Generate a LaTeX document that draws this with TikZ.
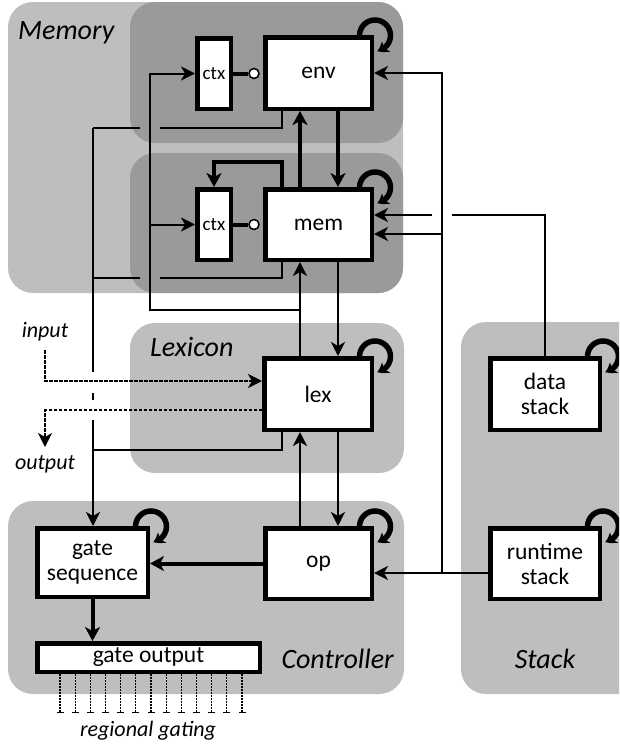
\documentclass[tikz,border=0pt]{standalone}
\usepackage{fontspec}
\setmainfont{Carlito}
\usetikzlibrary{arrows.meta,calc,bending}

\definecolor{zonelightgray}{RGB}{189,190,192}
\definecolor{zonedarkgray}{RGB}{154,154,154}

\newcommand\unitfont{\fontsize{23.5}{25}\selectfont}
\newcommand\ctxfont{\fontsize{19}{21}\selectfont}
\newcommand\zonefont{\fontsize{28}{30}\selectfont\itshape}
\newcommand\iofont{\fontsize{22}{24}\selectfont\itshape}

\tikzset{
  zonelight/.style={fill=zonelightgray, rounded corners=25pt},
  zonedark/.style={fill=zonedarkgray, rounded corners=25pt},
  zonelabel/.style={inner sep=0pt, font=\zonefont},
  unit/.style={draw, fill=white, line width=4.5pt, inner sep=0pt, align=center, font=\unitfont},
  ctxunit/.style={unit, font=\ctxfont, minimum width=33.5pt, minimum height=70.5pt},
  gatecircle/.style={circle, draw, fill=white, line width=1.5pt, inner sep=0pt, minimum size=10pt},
  wire/.style={line width=2pt},
  warrow/.style={wire, -{Stealth[length=14pt,width=14pt,inset=4pt]}},
  fatwire/.style={line width=4pt},
  fatarrow/.style={fatwire, -{Stealth[length=14pt,width=15pt,inset=4pt]}},
  iowire/.style={line width=1.8pt, dash pattern=on 3.5pt off 1.5pt,
                 -{Stealth[length=14pt,width=14pt,inset=4pt]}},
  gatewire/.style={line width=1.2pt, dash pattern=on 2pt off 1pt,
                   -{Bar[width=7pt,line width=1.2pt]}},
  loopwire/.style={line width=5.5pt, -{Stealth[length=10pt,width=13pt,inset=2.5pt,bend]}},
}
% recurrent self-connection drawn at a unit's upper right corner
\newcommand\selfloop[1]{%
  \draw[loopwire] ($(#1.north east)+(-14.5,0.5)$) arc[start angle=180, end angle=442, radius=15.5];}

\begin{document}
\begin{tikzpicture}[x=1pt,y=-1pt]
\useasboundingbox (0,0) rectangle (619,747);
\clip (0,0) rectangle (619,747);

% ---- zones ----
\fill[zonelight] (8,2) rectangle (403,293);
\fill[zonedark] (130,2) rectangle (403,143);
\fill[zonedark] (130,153) rectangle (403,293);
\fill[zonelight] (130,323) rectangle (404,473);
\fill[zonelight] (8,501) rectangle (404,694);
\fill[zonelight] (461,322) rectangle (660,694);

\node[zonelabel, anchor=base west] (memlbl) at (18,39) {Memory};
\node[zonelabel, anchor=base west] (lexlbl) at (150,356) {Lexicon};
\node[zonelabel, anchor=base east] (ctllbl) at (394,668) {Controller};
\node[zonelabel, anchor=base] (stklbl) at (545,668) {Stack};

% ---- units ----
\node[unit, minimum width=106.5pt, minimum height=71.5pt] (env) at (318.5,73) {env};
\node[unit, minimum width=106.5pt, minimum height=70.5pt] (mem) at (318.5,224.5) {mem};
\node[ctxunit] (ctxE) at (214,73.5) {ctx};
\node[ctxunit] (ctxM) at (214,224.5) {ctx};
\node[gatecircle] (oE) at (254,73.5) {};
\node[gatecircle] (oM) at (254,224.5) {};
\node[unit, minimum width=107.5pt, minimum height=71.5pt] (lex) at (318,394) {lex};
\node[unit, minimum width=106.5pt, minimum height=70.5pt] (op) at (318.5,563.5) {op};
\node[unit, minimum width=110.5pt, minimum height=68.5pt] (gs) at (92.5,562.5) {gate\\sequence};
\node[unit, align=none, text height=14pt, text depth=5pt,
      minimum width=222.5pt, minimum height=28.5pt] (go) at (148.5,657.5) {gate output};
\node[unit, minimum width=109.5pt, minimum height=71.5pt] (ds) at (545,394) {data\\stack};
\node[unit, minimum width=109.5pt, minimum height=70.5pt] (rs) at (545,563.5) {runtime\\stack};

% ---- routing columns and rows ----
\coordinate (xBus) at (93,0);
\coordinate (xCtx) at (150,0);
\coordinate (xFb)  at (282,0);
\coordinate (xUp)  at (300,0);
\coordinate (xDn)  at (338,0);
\coordinate (xRt)  at (442,0);
\coordinate (yE)    at (0,128);
\coordinate (yFb)   at (0,162);
\coordinate (yMemA) at (0,215);
\coordinate (yMemB) at (0,234);
\coordinate (yM)    at (0,278);
\coordinate (yLoop) at (0,310);
\coordinate (yIn)   at (0,381);
\coordinate (yOut)  at (0,410);
\coordinate (yL)    at (0,450);
\coordinate (yRS)   at (0,573);
\coordinate (inTop) at (45,350);
\coordinate (outEnd) at (45,447);

% ---- ctx gating ----
\draw[fatwire] (ctxE.east) -- (oE.west);
\draw[fatwire] (ctxM.east) -- (oM.west);

% ---- memory internals ----
\draw[fatarrow] (mem.north -| xUp) -- (env.south -| xUp);
\draw[fatarrow] (env.south -| xDn) -- (mem.north -| xDn);
\draw[fatarrow] (mem.north -| xFb) -- (xFb |- yFb) -| (ctxM.north);

% ---- lexicon to memory and contexts ----
\draw[warrow] (lex.north -| xUp) -- (mem.south -| xUp);
\draw[warrow] (yLoop -| xUp) -| (xCtx |- ctxE.west) -- (ctxE.west);
\draw[warrow] (xCtx |- ctxM.west) -- (ctxM.west);
\draw[warrow] (mem.south -| xDn) -- (lex.north -| xDn);

% ---- lexicon and op ----
\draw[warrow] (lex.south -| xDn) -- (op.north -| xDn);
\draw[warrow] (op.north -| xUp) -- (lex.south -| xUp);

% ---- bus into the gate sequence ----
\draw[wire] (env.south -| xFb) |- ($(yE -| xCtx)+(10,0)$);
\draw[wire] ($(yE -| xCtx)+(-10,0)$) -- (yE -| xBus);
\draw[wire] (mem.south -| xFb) |- ($(yM -| xCtx)+(10,0)$);
\draw[wire] ($(yM -| xCtx)+(-10,0)$) -- (yM -| xBus);
\draw[wire] (lex.south -| xFb) |- (yL -| xBus);
\draw[wire] (yE -| xBus) -- ($(yIn -| xBus)+(0,-9)$);
\draw[wire] ($(yIn -| xBus)+(0,12)$) -- ($(yOut -| xBus)+(0,-10)$);
\draw[warrow] ($(yOut -| xBus)+(0,10)$) -- (gs.north -| xBus);

% ---- input and output ----
\draw[iowire] (inTop) |- (lex.west |- yIn);
\draw[iowire] (lex.west |- yOut) -| (outEnd);
\node[font=\iofont, anchor=base] (inlbl) at (45,337) {input};
\node[font=\iofont] (outlbl) at (45,464) {output};

% ---- controller ----
\draw[fatarrow] (op.west) -- (op.west -| gs.east);
\draw[fatarrow] (gs.south) -- (go.north -| gs.south);
\foreach \i in {0,...,12} {
  \coordinate (g\i) at (60+15.17*\i,713);
  \draw[gatewire] (g\i |- go.south) -- (g\i);
}
\node[font=\iofont] (gatelbl) at (148,731) {regional gating};

% ---- stacks ----
\draw[warrow] (rs.west |- yRS) -- (op.east |- yRS);
\draw[warrow] (xRt |- yRS) -- (xRt |- env.east) -- (env.east);
\draw[warrow] (xRt |- yMemB) -- (mem.east |- yMemB);
\draw[wire] (ds.north) |- ($(yMemA -| xRt)+(10,0)$);
\draw[warrow] ($(yMemA -| xRt)+(-10,0)$) -- (mem.east |- yMemA);

% ---- self connections ----
\selfloop{env}
\selfloop{mem}
\selfloop{lex}
\selfloop{op}
\selfloop{gs}
\selfloop{ds}
\selfloop{rs}
\end{tikzpicture}
\end{document}
